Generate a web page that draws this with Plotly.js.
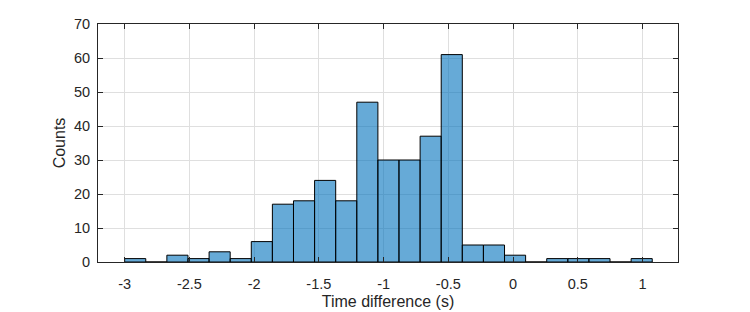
<!DOCTYPE html>
<html>
<head>
<meta charset="utf-8">
<script src="https://cdn.plot.ly/plotly-3.0.1.min.js"></script>
<style>html,body{margin:0;padding:0;background:#fff;}#chart{width:750px;height:312px;}</style>
</head>
<body>
<div id="chart"></div>
<script>
// Histogram bin edges (s) and counts per bin
var binEdges = [-3.000, -2.837, -2.674, -2.511, -2.348, -2.185, -2.022, -1.859, -1.696,
  -1.533, -1.370, -1.207, -1.044, -0.881, -0.718, -0.555, -0.392, -0.229, -0.066,
  0.097, 0.260, 0.423, 0.586, 0.749, 0.912, 1.075];
var counts = [1, 0, 2, 1, 3, 1, 6, 17, 18, 24, 18, 47, 30, 30, 37, 61, 5, 5, 2, 0, 1, 1, 1, 0, 1];
var xTickVals = [-3, -2.5, -2, -1.5, -1, -0.5, 0, 0.5, 1];
var xTickText = ['-3', '-2.5', '-2', '-1.5', '-1', '-0.5', '0', '0.5', '1'];
var yTickVals = [0, 10, 20, 30, 40, 50, 60, 70];

var centers = [], widths = [];
for (var i = 0; i < counts.length; i++) {
  centers.push((binEdges[i] + binEdges[i + 1]) / 2);
  widths.push(binEdges[i + 1] - binEdges[i]);
}

var axColor = '#262626';
var trace = {
  type: 'bar',
  x: centers,
  y: counts,
  width: widths,
  marker: {color: 'rgba(0,114,189,0.6)', line: {color: '#000000', width: 1}},
  hoverinfo: 'x+y'
};

var common = {
  showline: true, linecolor: axColor, linewidth: 1, mirror: 'ticks',
  ticks: 'inside', ticklen: 5, tickcolor: axColor, tickwidth: 1,
  showgrid: true, gridcolor: '#dfdfdf', gridwidth: 1, zeroline: false,
  tickfont: {family: 'Liberation Sans, Arial, sans-serif', size: 14.5, color: axColor}
};

var layout = {
  width: 750, height: 312,
  margin: {l: 98, r: 72, t: 24, b: 50},
  paper_bgcolor: '#ffffff', plot_bgcolor: '#ffffff',
  showlegend: false,
  bargap: 0,
  font: {family: 'Liberation Sans, Arial, sans-serif', color: axColor},
  xaxis: Object.assign({}, common, {
    range: [-3.206, 1.274], tickmode: 'array', tickvals: xTickVals, ticktext: xTickText,
    ticklabelstandoff: 9,
    title: {text: 'Time difference (s)', font: {size: 16, color: axColor}, standoff: 4}
  }),
  yaxis: Object.assign({}, common, {
    range: [0, 70], tickmode: 'array', tickvals: yTickVals,
    ticklabelstandoff: 4,
    title: {text: 'Counts', font: {size: 16, color: axColor}, standoff: 4}
  })
};

Plotly.newPlot('chart', [trace], layout, {displayModeBar: false, staticPlot: true});
</script>
</body>
</html>
